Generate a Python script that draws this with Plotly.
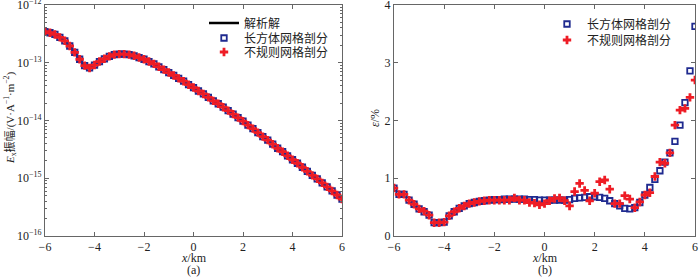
import plotly.graph_objects as go

# ---------------- data ----------------
x_km = [round(-6 + 0.2 * i, 1) for i in range(61)]

# (a) Ex amplitude (V·A^-1·m^-2)
amp_analytic = [
    3.47e-13, 3.31e-13, 3.09e-13, 2.75e-13, 2.40e-13, 1.95e-13, 1.51e-13, 1.15e-13,
    8.91e-14, 8.13e-14, 9.12e-14, 1.05e-13, 1.17e-13, 1.29e-13, 1.38e-13, 1.41e-13,
    1.41e-13, 1.38e-13, 1.32e-13, 1.23e-13, 1.15e-13, 1.05e-13, 9.55e-14, 8.51e-14,
    7.59e-14, 6.76e-14, 6.03e-14, 5.37e-14, 4.79e-14, 4.17e-14, 3.72e-14, 3.24e-14,
    2.88e-14, 2.51e-14, 2.19e-14, 1.95e-14, 1.70e-14, 1.48e-14, 1.29e-14, 1.12e-14,
    9.77e-15, 8.32e-15, 7.24e-15, 6.17e-15, 5.25e-15, 4.57e-15, 3.89e-15, 3.31e-15,
    2.88e-15, 2.45e-15, 2.09e-15, 1.82e-15, 1.55e-15, 1.32e-15, 1.12e-15, 9.77e-16,
    8.32e-16, 7.08e-16, 6.03e-16, 5.13e-16, 4.37e-16,
]
amp_rect = list(amp_analytic)
amp_irreg = list(amp_analytic)

# (b) relative error (%)
err_rect = [
    0.83, 0.72, 0.72, 0.62, 0.55, 0.47, 0.42, 0.36, 0.23, 0.23,
    0.24, 0.35, 0.42, 0.48, 0.52, 0.56, 0.58, 0.60, 0.61, 0.62,
    0.63, 0.63, 0.64, 0.64, 0.64, 0.64, 0.64, 0.63, 0.63, 0.62,
    0.62, 0.62, 0.62, 0.62, 0.62, 0.63, 0.65, 0.66, 0.67, 0.68,
    0.68, 0.67, 0.65, 0.61, 0.56, 0.52, 0.48, 0.47, 0.49, 0.58,
    0.71, 0.84, 0.98, 1.13, 1.28, 1.44, 1.64, 1.92, 2.31, 2.86,
    3.63,
]
err_irreg = [
    0.83, 0.72, 0.72, 0.62, 0.55, 0.47, 0.43, 0.36, 0.23, 0.23,
    0.24, 0.35, 0.42, 0.48, 0.52, 0.56, 0.58, 0.60, 0.61, 0.62,
    0.62, 0.62, 0.62, 0.62, 0.66, 0.62, 0.62, 0.58, 0.57, 0.54,
    0.56, 0.61, 0.65, 0.66, 0.61, 0.52, 0.77, 0.91, 0.79, 0.61,
    0.74, 0.94, 0.97, 0.81, 0.56, 0.56, 0.70, 0.64, 0.49, 0.59,
    0.71, 0.75, 1.03, 1.28, 1.26, 1.44, 1.92, 2.18, 2.21, 2.40,
    2.70,
]

name_analytic = "解析解"
name_rect = "长方体网格剖分"
name_irreg = "不规则网格剖分"

# ---------------- style ----------------
W, H = 700, 277
FONT = "Liberation Serif, Times New Roman, Noto Sans CJK SC, serif"
TXT = "#222222"
AX = "#666666"
BLUE = "#1f2a8f"
RED = "#ee1c25"

def px_x(p):
    return p / W

def px_y(p):
    return 1 - p / H

left_dom = [px_x(45), px_x(342)]
right_dom = [px_x(394), px_x(695)]
y_dom = [px_y(236), px_y(5)]

sq = dict(symbol="square-open", size=5.5, color=BLUE, line=dict(width=1.8, color=BLUE))
cr = dict(symbol="cross", size=7, color=RED, line=dict(width=0))

fig = go.Figure()

fig.add_trace(go.Scatter(
    x=x_km, y=amp_analytic, mode="lines", name=name_analytic,
    line=dict(color="black", width=2.5), xaxis="x", yaxis="y", legend="legend"))
fig.add_trace(go.Scatter(
    x=x_km, y=amp_rect, mode="markers", name=name_rect, marker=sq,
    xaxis="x", yaxis="y", legend="legend2"))
fig.add_trace(go.Scatter(
    x=x_km, y=amp_irreg, mode="markers", name=name_irreg, marker=cr,
    xaxis="x", yaxis="y", legend="legend3"))

fig.add_trace(go.Scatter(
    x=x_km, y=err_rect, mode="markers", name=name_rect, marker=sq,
    xaxis="x2", yaxis="y2", legend="legend4"))
fig.add_trace(go.Scatter(
    x=x_km, y=err_irreg, mode="markers", name=name_irreg, marker=cr,
    xaxis="x2", yaxis="y2", legend="legend5"))

common_ax = dict(
    showline=True, linecolor=AX, linewidth=1, mirror="allticks",
    ticks="inside", ticklen=4, tickcolor=AX, showgrid=False, zeroline=False,
    automargin=False, ticklabeloverflow="allow",
    tickfont=dict(family=FONT, size=12, color=TXT),
)

major = [1e-16, 1e-15, 1e-14, 1e-13, 1e-12]
major_txt = ["10<sup><span style='font-size:8px'>−%d</span></sup>" % e
             for e in (16, 15, 14, 13, 12)]
minor_vals = [m * d for d in major[:-1] for m in range(2, 10)]

def leg(xp, yp):
    return dict(x=px_x(xp), y=px_y(yp), xanchor="left", yanchor="middle",
                bgcolor="rgba(255,255,255,0)", borderwidth=0,
                font=dict(family=FONT, size=12, color=TXT))

fig.update_layout(
    width=W, height=H,
    margin=dict(l=0, r=0, t=0, b=0, autoexpand=False),
    paper_bgcolor="white", plot_bgcolor="white",
    font=dict(family=FONT, size=12, color=TXT),
    xaxis=dict(domain=left_dom, anchor="y", range=[-6, 6], dtick=2, **common_ax),
    yaxis=dict(domain=y_dom, anchor="x", type="log", range=[-16, -12],
               tickmode="array", tickvals=major, ticktext=major_txt,
               minor=dict(tickmode="array", tickvals=minor_vals, ticks="inside",
                          ticklen=2, tickcolor=AX, showgrid=False),
               **common_ax),
    xaxis2=dict(domain=right_dom, anchor="y2", range=[-6, 6], dtick=2, **common_ax),
    yaxis2=dict(domain=y_dom, anchor="x2", range=[0, 4], dtick=1, **common_ax),
    legend=leg(204, 23),
    legend2=leg(204, 38),
    legend3=leg(204, 52),
    legend4=leg(547, 24),
    legend5=leg(547, 40),
    showlegend=True,
)

ann = []
for cx, lab in [((45 + 342) / 2, "(a)"), ((394 + 695) / 2, "(b)")]:
    ann.append(dict(x=px_x(cx), y=px_y(258), xref="paper", yref="paper",
                    xanchor="center", yanchor="middle",
                    text="<i>x</i>/km", showarrow=False,
                    font=dict(family=FONT, size=12, color=TXT)))
    ann.append(dict(x=px_x(cx), y=px_y(270), xref="paper", yref="paper",
                    xanchor="center", yanchor="middle",
                    text=lab, showarrow=False,
                    font=dict(family=FONT, size=12, color=TXT)))
ann.append(dict(x=px_x(10), y=px_y(118), xref="paper", yref="paper",
                xanchor="center", yanchor="middle",
                text="<i>E</i><sub>x</sub>振幅/(V·A<sup>−1</sup>·m<sup>−2</sup>)",
                textangle=-90, showarrow=False,
                font=dict(family=FONT, size=11, color=TXT)))
ann.append(dict(x=px_x(375), y=px_y(118), xref="paper", yref="paper",
                xanchor="center", yanchor="middle",
                text="<i>ε</i>/%", textangle=-90, showarrow=False,
                font=dict(family=FONT, size=12, color=TXT)))
fig.update_layout(annotations=ann)

fig.write_html(
    "out.html",
    config={"displayModeBar": False},
    post_script="document.body.style.margin='0';document.body.style.overflow='hidden';",
)
